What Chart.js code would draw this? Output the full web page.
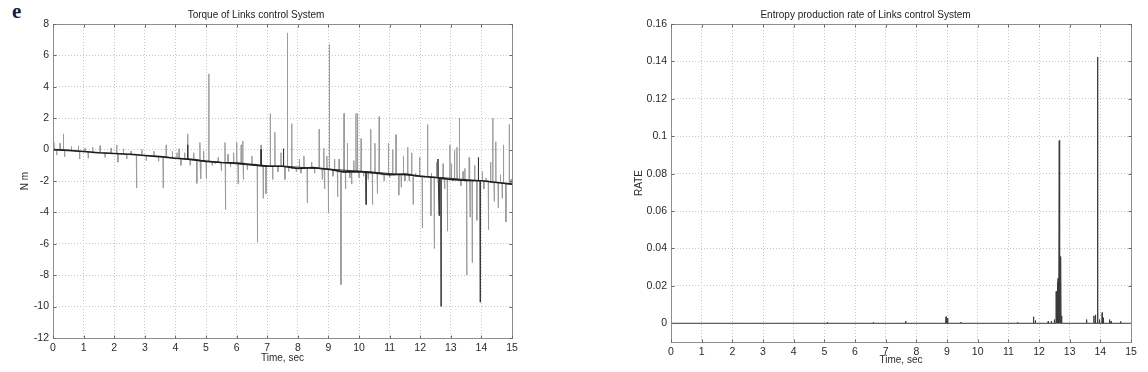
<!DOCTYPE html>
<html>
<head>
<meta charset="utf-8">
<script src="https://cdn.jsdelivr.net/npm/chart.js@4.4.1/dist/chart.umd.min.js"></script>
<style>
html, body { margin: 0; padding: 0; background: #fff; overflow: hidden; width: 1148px; height: 372px; position: relative; }
canvas { position: absolute; top: 0; }
#tag { position: absolute; left: 12px; top: 1px; font: bold 21px "Liberation Serif", serif; color: #1c1c3a; line-height: 1; }
</style>
</head>
<body>
<div id="tag">e</div>
<canvas id="torque" width="565" height="372" style="left:0"></canvas>
<canvas id="entropy" width="602" height="372" style="left:600px"></canvas>
<script>
// tick labels
const timeTicks = [0, 1, 2, 3, 4, 5, 6, 7, 8, 9, 10, 11, 12, 13, 14, 15];
const torqueTicks = [-12, -10, -8, -6, -4, -2, 0, 2, 4, 6, 8];
const rateTicks = [0, 0.02, 0.04, 0.06, 0.08, 0.1, 0.12, 0.14, 0.16];

// smooth torque (black line), every 0.5 s
const trendT = [0, 0.5, 1, 1.5, 2, 2.5, 3, 3.5, 4, 4.5, 5, 5.5, 6, 6.5, 7, 7.5, 8, 8.5, 9, 9.5, 10, 10.5, 11, 11.5, 12, 12.5, 13, 13.5, 14, 14.5, 15];
const trendV = [0, -0.05, -0.12, -0.2, -0.25, -0.3, -0.38, -0.45, -0.55, -0.62, -0.75, -0.82, -0.85, -0.95, -1.05, -1.06, -1.2, -1.15, -1.25, -1.42, -1.4, -1.48, -1.6, -1.56, -1.7, -1.78, -1.9, -1.96, -1.98, -2.1, -2.2];

// raw torque spikes (gray)
const spikeT = [0.03, 0.12, 0.23, 0.34, 0.38, 0.6, 0.83, 0.87, 1.05, 1.15, 1.3, 1.54, 1.7, 1.9, 2.08, 2.12, 2.3, 2.41, 2.55, 2.73,
  2.9, 3.05, 3.3, 3.45, 3.6, 3.7, 3.9, 4.05, 4.12, 4.18, 4.3, 4.4, 4.48, 4.6, 4.7, 4.8, 4.83, 4.92, 5.01, 5.09,
  5.2, 5.3, 5.4, 5.5, 5.62, 5.64, 5.72, 5.8, 5.9, 6.0, 6.05, 6.15, 6.2, 6.22, 6.35, 6.5, 6.6, 6.68, 6.8, 6.87,
  6.96, 7.1, 7.18, 7.25, 7.35, 7.45, 7.53, 7.58, 7.66, 7.7, 7.8, 7.95, 8.05, 8.1, 8.2, 8.31, 8.45, 8.55, 8.7, 8.8,
  8.85, 8.88, 8.95, 9.0, 9.03, 9.15, 9.2, 9.3, 9.35, 9.41, 9.51, 9.56, 9.62, 9.7, 9.76, 9.83, 9.9, 9.95, 10.0, 10.07,
  10.15, 10.23, 10.3, 10.38, 10.44, 10.52, 10.6, 10.66, 10.75, 10.82, 10.96, 11.0, 11.1, 11.21, 11.3, 11.38, 11.45, 11.5, 11.59, 11.64,
  11.72, 11.77, 11.85, 11.98, 12.07, 12.13, 12.24, 12.35, 12.37, 12.46, 12.53, 12.62, 12.75, 12.8, 12.89, 12.97, 13.02, 13.07, 13.12, 13.2,
  13.28, 13.33, 13.4, 13.46, 13.52, 13.6, 13.63, 13.7, 13.78, 13.85, 14.03, 14.08, 14.15, 14.23, 14.3, 14.37, 14.42, 14.47, 14.55, 14.62,
  14.68, 14.72, 14.8, 14.91, 14.97];
const spikeV = [0.45, -0.35, 0.4, 1.0, -0.45, 0.2, 0.25, -0.6, 0.1, -0.55, 0.15, 0.25, -0.5, 0.1, 0.3, -0.8, 0.05, -0.6, -0.1, -2.45,
  0.0, -0.7, -0.1, -0.75, -2.45, 0.3, -0.1, -0.2, 0.05, -1.0, -0.2, 1.0, -1.0, -0.2, -2.15, 0.45, -1.85, -0.1, -1.85, 4.82,
  -1.0, -0.9, -0.5, -1.35, 0.45, -3.82, -0.3, -1.1, -0.2, 0.45, -2.2, 0.3, 0.55, -1.9, -1.3, -0.4, -0.9, -5.9, 0.3, -3.1,
  -2.8, 2.3, -1.9, 1.1, -1.4, -0.2, 0.05, -1.9, 7.43, -1.4, 1.65, -1.4, -0.6, -1.5, -0.4, -3.4, -0.8, -1.5, 1.3, -1.9,
  0.1, -2.5, -0.4, -4.0, 6.7, -1.7, -0.6, -3.0, -0.6, -8.6, 2.3, -2.5, 0.4, -1.8, -2.2, -0.7, 2.3, 2.3, -1.8, 0.7,
  -1.7, -3.5, -1.9, 1.3, -3.5, 0.4, -2.8, 2.1, -1.6, -2.0, 0.4, -1.8, 0.0, 0.95, -2.9, -2.4, -0.4, -2.0, 0.15, -2.0,
  -0.2, -3.5, -1.5, -0.5, -5.0, -1.8, 1.6, -4.2, -1.5, -6.3, -0.8, -4.2, -0.9, -2.5, -5.2, 0.3, -0.9, -2.0, -0.05, 0.15,
  2.0, -2.3, -1.4, -1.2, -8.0, -0.5, -4.3, -7.2, -1.0, -4.5, -1.4, -2.5, -1.8, -5.1, -0.8, 2.0, -3.3, 0.5, -3.7, -1.6,
  -3.1, 0.3, -4.6, 1.6, -1.9];

// darker spikes (thin, near-black)
const darkT = [4.4, 6.8, 7.53, 10.23, 12.58, 12.62, 12.68, 13.9, 13.96];
const darkV = [0.3, 0.0, 0.05, -3.5, -0.6, -4.2, -9.98, -0.5, -9.72];

// entropy production rate peaks, zero elsewhere
const rateT = [5.1, 6.6, 7.65, 8.97, 9.02, 9.45, 11.3, 11.82, 11.88, 12.3, 12.4, 12.5, 12.56, 12.58, 12.6, 12.62, 12.64, 12.66, 12.68, 12.71,
  12.74, 13.55, 13.79, 13.84, 13.91, 13.97, 14.06, 14.1, 14.3, 14.35, 14.66];
const rateV = [0.0005, 0.0005, 0.0012, 0.0035, 0.0028, 0.0006, 0.0005, 0.0035, 0.0015, 0.001, 0.0012, 0.002, 0.017, 0.017, 0.022, 0.024, 0.017, 0.0977, 0.017, 0.0357,
  0.004, 0.002, 0.004, 0.0045, 0.1423, 0.002, 0.0057, 0.003, 0.002, 0.001, 0.001];

// nearest 0.5 s sample of the trend
function baseAt(t) { return trendV[Math.round(t * 2)]; }

function spikePoints(ts, vs, base, w) {
  const pts = [];
  ts.forEach((t, i) => {
    const b = base(t);
    pts.push({ x: t - w, y: b }, { x: t, y: vs[i] }, { x: t + w, y: b });
  });
  return pts;
}

const grayPts = spikePoints(spikeT, spikeV, baseAt, 0.008);
const darkPts = spikePoints(darkT, darkV, baseAt, 0.008);
const trendPts = trendT.map((t, i) => ({ x: t, y: trendV[i] }));
const ratePts = [{ x: 0, y: 0 }].concat(spikePoints(rateT, rateV, () => 0, 0.008), [{ x: 15, y: 0 }]);

const font = { family: 'Liberation Sans', size: 10.5 };
const titleFont = { family: 'Liberation Sans', size: 10, weight: 'normal' };
const textColor = '#2a2a2a';

// matlab-like box with small inward ticks
const frame = {
  id: 'frame',
  afterDraw(chart) {
    const { ctx, chartArea: a, scales } = chart;
    const l = Math.round(a.left) + 0.5, r = Math.round(a.right) + 0.5;
    const t = Math.round(a.top) + 0.5, b = Math.round(a.bottom) + 0.5;
    ctx.save();
    ctx.lineWidth = 1;
    ctx.strokeStyle = '#8e8e8e';
    ctx.strokeRect(l, t, r - l, b - t);
    ctx.strokeStyle = '#6a6a6a';
    ctx.beginPath();
    scales.x.ticks.forEach(tk => {
      const x = Math.round(scales.x.getPixelForValue(tk.value)) + 0.5;
      ctx.moveTo(x, t); ctx.lineTo(x, t + 3);
      ctx.moveTo(x, b); ctx.lineTo(x, b - 3);
    });
    scales.y.ticks.forEach(tk => {
      const y = Math.round(scales.y.getPixelForValue(tk.value)) + 0.5;
      ctx.moveTo(l, y); ctx.lineTo(l + 3, y);
      ctx.moveTo(r, y); ctx.lineTo(r - 3, y);
    });
    ctx.stroke();
    ctx.restore();
  }
};

function axes(cfg) {
  return {
    x: {
      type: 'linear', min: 0, max: 15,
      afterBuildTicks: s => { s.ticks = timeTicks.map(v => ({ value: v })); },
      afterFit: s => { s.height = cfg.xHeight; },
      ticks: { color: textColor, font, padding: 4, maxRotation: 0, autoSkip: false },
      grid: { color: '#c6c6c6', drawTicks: false },
      border: { display: false, dash: [1, 2] },
      title: { display: true, text: 'Time, sec', color: textColor, font: titleFont, padding: { top: 0, bottom: cfg.xTitlePad } }
    },
    y: {
      type: 'linear', min: cfg.yMin, max: cfg.yMax,
      afterBuildTicks: s => { s.ticks = cfg.yTicks.map(v => ({ value: v })); },
      afterFit: s => { s.width = cfg.yWidth; },
      ticks: { color: textColor, font, padding: 4, autoSkip: false, callback: v => String(Math.round(v * 100) / 100) },
      grid: { color: '#c6c6c6', drawTicks: false },
      border: { display: false, dash: [1, 2] },
      title: { display: true, text: cfg.yTitle, color: textColor, font: titleFont, padding: { top: cfg.yTitlePad, bottom: 0 } }
    }
  };
}

function titleOpts(text) {
  return { display: true, text, color: '#222', font: titleFont, padding: { top: 9, bottom: 3 } };
}

new Chart(document.getElementById('torque'), {
  type: 'line',
  data: {
    datasets: [
      { data: trendPts, borderColor: '#1e1e1e', borderWidth: 1.6, pointRadius: 0, tension: 0 },
      { data: darkPts, borderColor: '#333', borderWidth: 1, pointRadius: 0, tension: 0 },
      { data: grayPts, borderColor: '#9c9c9c', borderWidth: 1, pointRadius: 0, tension: 0 }
    ]
  },
  options: {
    responsive: false, animation: false,
    layout: { padding: { right: 53 } },
    plugins: { legend: { display: false }, tooltip: { enabled: false }, title: titleOpts('Torque of Links control System') },
    scales: axes({ xHeight: 34, xTitlePad: 8, yMin: -12, yMax: 8, yTicks: torqueTicks, yWidth: 53, yTitle: 'N m', yTitlePad: 19 })
  },
  plugins: [frame]
});

new Chart(document.getElementById('entropy'), {
  type: 'line',
  data: {
    datasets: [
      { data: ratePts, borderColor: '#3a3a3a', borderWidth: 1, pointRadius: 0, tension: 0 }
    ]
  },
  options: {
    responsive: false, animation: false,
    layout: { padding: { right: 71 } },
    plugins: { legend: { display: false }, tooltip: { enabled: false }, title: titleOpts('Entropy production rate of Links control System') },
    scales: axes({ xHeight: 30, xTitlePad: 6, yMin: -0.01, yMax: 0.16, yTicks: rateTicks, yWidth: 71, yTitle: 'RATE', yTitlePad: 33 })
  },
  plugins: [frame]
});
</script>
</body>
</html>
